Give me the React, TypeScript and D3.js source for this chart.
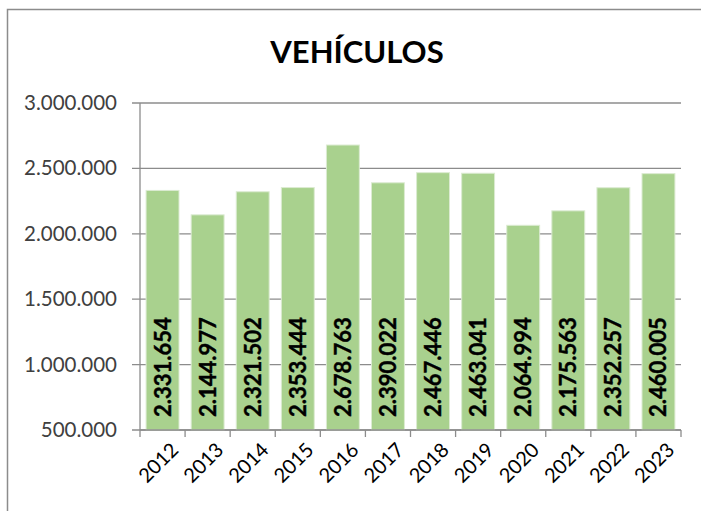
import { useEffect, useRef } from "react";
import * as d3 from "d3";

// chart data
const years = ["2012", "2013", "2014", "2015", "2016", "2017", "2018", "2019", "2020", "2021", "2022", "2023"];
const vehicles = [2331654, 2144977, 2321502, 2353444, 2678763, 2390022, 2467446, 2463041, 2064994, 2175563, 2352257, 2460005];
const yTicks = [500000, 1000000, 1500000, 2000000, 2500000, 3000000];
const title = "VEHÍCULOS";

// spanish style thousands separator
const fmt = (v: number) => d3.format(",")(v).replace(/,/g, ".");

export default function App() {
  const svgRef = useRef<SVGSVGElement>(null);

  useEffect(() => {
    const width = 701;
    const height = 511;
    const margin = { top: 103, right: 20, bottom: 81, left: 140 };
    const w = width - margin.left - margin.right;
    const h = height - margin.top - margin.bottom;

    const svg = d3.select(svgRef.current);
    svg.selectAll("*").remove();

    // outer frame (cut off on right / bottom)
    svg
      .append("rect")
      .attr("x", 7.5)
      .attr("y", 9.5)
      .attr("width", 740)
      .attr("height", 540)
      .attr("fill", "white")
      .attr("stroke", "#8c8c8c")
      .attr("stroke-width", 1.5);

    svg
      .append("text")
      .attr("x", 357)
      .attr("y", 63)
      .attr("text-anchor", "middle")
      .attr("font-family", "Lato, sans-serif")
      .attr("font-weight", "bold")
      .attr("font-size", 31)
      .attr("fill", "#000")
      .text(title);

    const g = svg.append("g").attr("transform", `translate(${margin.left},${margin.top})`);

    const xScale = d3.scaleBand().domain(years).range([0, w]).paddingInner(0.27).paddingOuter(0.135);
    const xBands = d3.scaleBand().domain(years).range([0, w]);
    const yScale = d3.scaleLinear().domain([500000, 3000000]).range([h, 0]);

    // gridlines
    g.append("g")
      .selectAll("line")
      .data(yTicks)
      .join("line")
      .attr("x1", -8)
      .attr("x2", w)
      .attr("y1", (d) => yScale(d))
      .attr("y2", (d) => yScale(d))
      .attr("stroke", "#8c8c8c")
      .attr("stroke-width", 1.3);

    // y labels
    g.append("g")
      .selectAll("text")
      .data(yTicks)
      .join("text")
      .attr("x", -23)
      .attr("y", (d) => yScale(d) + 7)
      .attr("text-anchor", "end")
      .attr("font-family", "Lato, sans-serif")
      .attr("font-size", 20.5)
      .attr("fill", "#404040")
      .text((d) => fmt(d));

    // bars
    g.append("g")
      .selectAll("rect")
      .data(vehicles)
      .join("rect")
      .attr("x", (d, i) => xScale(years[i])!)
      .attr("y", (d) => yScale(d))
      .attr("width", xScale.bandwidth())
      .attr("height", (d) => h - yScale(d))
      .attr("fill", "#a9d18e")
      .attr("stroke", "#dcebd2")
      .attr("stroke-width", 1);

    // y axis line
    g.append("line")
      .attr("x1", 0)
      .attr("x2", 0)
      .attr("y1", 0)
      .attr("y2", h)
      .attr("stroke", "#8c8c8c")
      .attr("stroke-width", 1.3);

    // x axis with ticks at category boundaries
    const boundaries = years.map((y) => xBands(y)!).concat([w]);
    g.append("line")
      .attr("x1", 0)
      .attr("x2", w)
      .attr("y1", h)
      .attr("y2", h)
      .attr("stroke", "#8c8c8c")
      .attr("stroke-width", 1.3);
    g.append("g")
      .selectAll("line")
      .data(boundaries)
      .join("line")
      .attr("x1", (d) => d)
      .attr("x2", (d) => d)
      .attr("y1", h)
      .attr("y2", h + 7)
      .attr("stroke", "#8c8c8c")
      .attr("stroke-width", 1.3);

    // x labels rotated
    g.append("g")
      .selectAll("text")
      .data(years)
      .join("text")
      .attr("transform", (d) => {
        const cx = xBands(d)! + xBands.bandwidth() / 2 + 7;
        return `translate(${cx},${h + 11}) rotate(-45)`;
      })
      .attr("text-anchor", "end")
      .attr("dy", "0.72em")
      .attr("font-family", "Lato, sans-serif")
      .attr("font-size", 20)
      .attr("fill", "#000")
      .text((d) => d);

    // value labels inside bars, rotated
    g.append("g")
      .selectAll("text")
      .data(vehicles)
      .join("text")
      .attr("transform", (d, i) => {
        const cx = xScale(years[i])! + xScale.bandwidth() / 2;
        return `translate(${cx + 8},${h - 13}) rotate(-90)`;
      })
      .attr("text-anchor", "start")
      .attr("font-family", "Lato, sans-serif")
      .attr("font-weight", "bold")
      .attr("font-size", 22)
      .attr("fill", "#000")
      .attr("stroke", "#000")
      .attr("stroke-width", 0.4)
      .text((d) => fmt(d));
  }, []);

  return (
    <svg
      ref={svgRef}
      width={701}
      height={511}
      style={{ position: "absolute", left: 0, top: 0, background: "white" }}
    />
  );
}
